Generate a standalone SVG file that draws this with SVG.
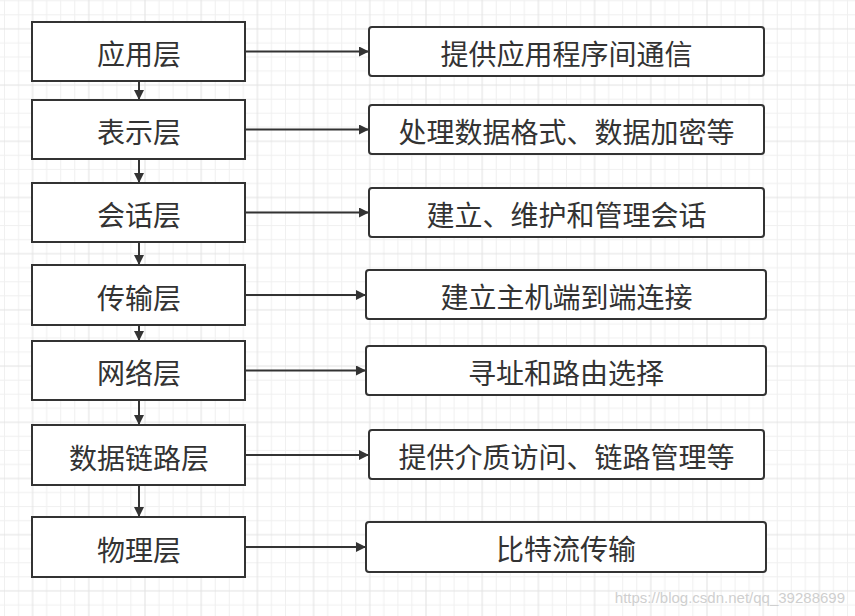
<svg xmlns="http://www.w3.org/2000/svg" width="855" height="616" viewBox="0 0 855 616">
<style>
.box{fill:#fff;stroke:#333;stroke-width:2}
.lbl{font-family:"Noto Sans CJK SC","Noto Sans",sans-serif;font-size:28px;fill:#333;text-anchor:middle;dominant-baseline:central}
.edge{stroke:#333;stroke-width:2;fill:none}
.wm{font-family:"Liberation Sans",Arial,sans-serif;font-size:15px;fill:#cfcfcf}
</style>
<defs>
<pattern id="grid" patternUnits="userSpaceOnUse" x="4" y="0.3" width="56.2" height="56.2">
<path d="M0.5 0V56.2M14.55 0V56.2M42.65 0V56.2M0 0.5H56.2M0 14.55H56.2M0 42.65H56.2" stroke="#f0f0f0" stroke-width="1" fill="none"/>
<path d="M28.6 0V56.2M0 28.6H56.2" stroke="#e2e2e2" stroke-width="1" fill="none"/>
</pattern>
<marker id="ah" viewBox="0 0 10 10" refX="10" refY="5" markerWidth="14" markerHeight="10" markerUnits="userSpaceOnUse" orient="auto">
<path d="M0 0L10 5L0 10Z" fill="#333"/>
</marker>
</defs>
<rect width="855" height="616" fill="#fff"/>
<rect width="855" height="616" fill="url(#grid)"/>

<g id="connectors">
<path class="edge" d="M139 81V100" marker-end="url(#ah)"/>
<path class="edge" d="M139 159V183" marker-end="url(#ah)"/>
<path class="edge" d="M139 242V265" marker-end="url(#ah)"/>
<path class="edge" d="M139 325V341" marker-end="url(#ah)"/>
<path class="edge" d="M139 400V425" marker-end="url(#ah)"/>
<path class="edge" d="M139 485V517" marker-end="url(#ah)"/>
<path class="edge" d="M245 51.5H369" marker-end="url(#ah)"/>
<path class="edge" d="M245 129.5H369" marker-end="url(#ah)"/>
<path class="edge" d="M245 212.5H369" marker-end="url(#ah)"/>
<path class="edge" d="M245 295H366" marker-end="url(#ah)"/>
<path class="edge" d="M245 370.5H366" marker-end="url(#ah)"/>
<path class="edge" d="M245 455H369" marker-end="url(#ah)"/>
<path class="edge" d="M245 547H366" marker-end="url(#ah)"/>
</g>

<g id="n1"><rect class="box" x="32" y="22" width="213" height="59"/><text class="lbl" x="139" y="53">应用层</text></g>
<g id="n2"><rect class="box" x="32" y="100" width="213" height="59"/><text class="lbl" x="139" y="131">表示层</text></g>
<g id="n3"><rect class="box" x="32" y="183" width="213" height="59"/><text class="lbl" x="139" y="214">会话层</text></g>
<g id="n4"><rect class="box" x="32" y="265" width="213" height="60"/><text class="lbl" x="139" y="297">传输层</text></g>
<g id="n5"><rect class="box" x="32" y="341" width="213" height="59"/><text class="lbl" x="139" y="372">网络层</text></g>
<g id="n6"><rect class="box" x="32" y="425" width="213" height="60"/><text class="lbl" x="139" y="457">数据链路层</text></g>
<g id="n7"><rect class="box" x="32" y="517" width="213" height="60"/><text class="lbl" x="139" y="549">物理层</text></g>

<g id="d1"><rect class="box" x="369" y="27" width="395" height="49" rx="3"/><text class="lbl" x="566.5" y="53">提供应用程序间通信</text></g>
<g id="d2"><rect class="box" x="369" y="105" width="395" height="49" rx="3"/><text class="lbl" x="566.5" y="131">处理数据格式、数据加密等</text></g>
<g id="d3"><rect class="box" x="369" y="188" width="395" height="49" rx="3"/><text class="lbl" x="566.5" y="214">建立、维护和管理会话</text></g>
<g id="d4"><rect class="box" x="366" y="270" width="400" height="49" rx="3"/><text class="lbl" x="566.5" y="296">建立主机端到端连接</text></g>
<g id="d5"><rect class="box" x="366" y="346" width="400" height="49" rx="3"/><text class="lbl" x="566" y="372">寻址和路由选择</text></g>
<g id="d6"><rect class="box" x="369" y="430" width="395" height="49" rx="3"/><text class="lbl" x="566.5" y="456">提供介质访问、链路管理等</text></g>
<g id="d7"><rect class="box" x="366" y="522" width="400" height="50" rx="3"/><text class="lbl" x="566" y="548">比特流传输</text></g>

<text class="wm" x="845" y="603" text-anchor="end">https://blog.csdn.net/qq_39288699</text>
</svg>
